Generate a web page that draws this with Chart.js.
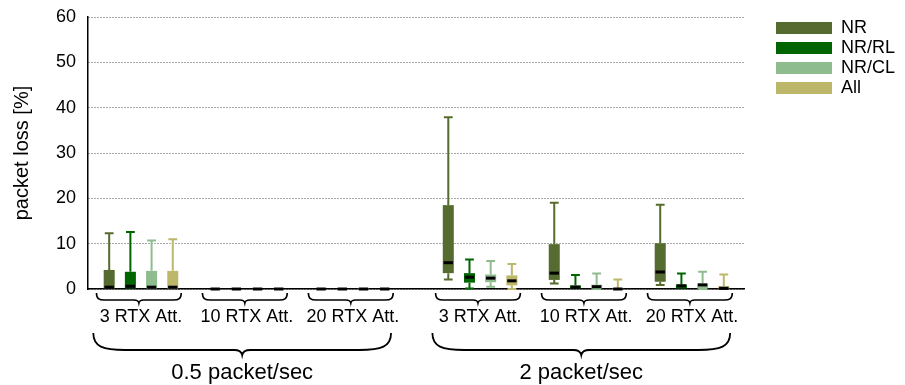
<!DOCTYPE html>
<html>
<head>
<meta charset="utf-8">
<script src="https://cdn.jsdelivr.net/npm/chart.js@4.4.1/dist/chart.umd.min.js"></script>
<style>
  html, body { margin: 0; padding: 0; background: #fff; }
  #wrap { width: 905px; height: 385px; position: relative; }
</style>
</head>
<body>
<div id="wrap"><canvas id="lossChart"></canvas></div>
<script>
// groups along the x axis and where they sit
const groupLabels = ['3 RTX Att.', '10 RTX Att.', '20 RTX Att.', '3 RTX Att.', '10 RTX Att.', '20 RTX Att.'];
const groupPos = [0.5, 1.5, 2.5, 3.7, 4.7, 5.7];
const rateLabels = ['0.5 packet/sec', '2 packet/sec'];
const rateGroups = [[0, 2], [3, 5]];

// per group: [low whisker, q1, median, q3, high whisker]
const nr = [
  [0, 0, 0.4, 4.2, 12.3],
  [0, 0, 0, 0, 0],
  [0, 0, 0, 0, 0],
  [2.1, 3.5, 5.8, 18.5, 37.9],
  [1.2, 2.0, 3.5, 9.9, 19.0],
  [0.9, 1.6, 3.75, 10.1, 18.6]
];
const nrRl = [
  [0, 0, 0.6, 3.8, 12.6],
  [0, 0, 0, 0, 0],
  [0, 0, 0, 0, 0],
  [0.1, 1.4, 2.6, 3.5, 6.5],
  [0, 0, 0.4, 0.8, 3.1],
  [0, 0, 0.7, 1.0, 3.4]
];
const nrCl = [
  [0, 0, 0.4, 4.0, 10.7],
  [0, 0, 0, 0, 0],
  [0, 0, 0, 0.2, 0.2],
  [0.5, 1.5, 2.4, 3.2, 6.2],
  [0, 0.1, 0.5, 0.95, 3.4],
  [0, 0.1, 0.9, 1.25, 3.8]
];
const all = [
  [0, 0, 0.4, 4.0, 11.0],
  [0, 0, 0, 0, 0],
  [0, 0, 0, 0, 0],
  [0, 0.8, 1.8, 3.0, 5.5],
  [0, 0, 0, 0.2, 2.1],
  [0, 0, 0.15, 0.65, 3.2]
];

const seriesNames = ['NR', 'NR/RL', 'NR/CL', 'All'];
const seriesStats = [nr, nrRl, nrCl, all];
const seriesColors = ['#556b2f', '#006400', '#8fbc8f', '#bdb76b'];

Chart.defaults.font.family = "'Liberation Sans', Arial, Helvetica, sans-serif";
Chart.defaults.color = '#000';

const datasets = seriesNames.map((name, s) => ({
  label: name,
  data: groupPos.map((x, g) => ({ x: x, y: [seriesStats[s][g][1], seriesStats[s][g][3]] })),
  stats: seriesStats[s],
  backgroundColor: seriesColors[s],
  borderWidth: 0,
  borderSkipped: false,
  barPercentage: 0.52,
  categoryPercentage: 0.8,
  xAxisID: 'x',
  yAxisID: 'y'
}));

// whiskers behind the boxes, medians on top
const boxPlot = {
  id: 'boxPlot',
  beforeDatasetsDraw(chart) {
    const ctx = chart.ctx;
    const y = chart.scales.y;
    chart.data.datasets.forEach((ds, d) => {
      chart.getDatasetMeta(d).data.forEach((bar, i) => {
        const st = ds.stats[i];
        const cap = bar.width * 0.8;
        ctx.save();
        ctx.strokeStyle = ds.backgroundColor;
        ctx.lineWidth = 2;
        [[st[3], st[4]], [st[1], st[0]]].forEach(([from, to]) => {
          if (from === to) return;
          const y0 = y.getPixelForValue(from);
          const y1 = y.getPixelForValue(to);
          ctx.beginPath();
          ctx.moveTo(bar.x, y0);
          ctx.lineTo(bar.x, y1);
          ctx.moveTo(bar.x - cap / 2, y1);
          ctx.lineTo(bar.x + cap / 2, y1);
          ctx.stroke();
        });
        ctx.restore();
      });
    });
  },
  afterDatasetsDraw(chart) {
    const ctx = chart.ctx;
    const y = chart.scales.y;
    chart.data.datasets.forEach((ds, d) => {
      chart.getDatasetMeta(d).data.forEach((bar, i) => {
        const ym = y.getPixelForValue(ds.stats[i][2]);
        const w = bar.width * 0.85;
        ctx.save();
        ctx.strokeStyle = '#000';
        ctx.lineWidth = 3;
        ctx.beginPath();
        ctx.moveTo(bar.x - w / 2, ym);
        ctx.lineTo(bar.x + w / 2, ym);
        ctx.stroke();
        ctx.restore();
      });
    });
  }
};

function drawBrace(ctx, x1, x2, top, depth, tip, curl) {
  const xm = (x1 + x2) / 2;
  const yl = top + depth;
  ctx.beginPath();
  ctx.moveTo(x1, top);
  ctx.bezierCurveTo(x1, yl - depth * 0.2, x1 + curl * 0.3, yl, x1 + curl, yl);
  ctx.lineTo(xm - tip * 1.6, yl);
  ctx.quadraticCurveTo(xm - tip * 0.2, yl, xm, yl + tip);
  ctx.quadraticCurveTo(xm + tip * 0.2, yl, xm + tip * 1.6, yl);
  ctx.lineTo(x2 - curl, yl);
  ctx.bezierCurveTo(x2 - curl * 0.3, yl, x2, yl - depth * 0.2, x2, top);
  ctx.stroke();
}

// braces under the groups and the rate captions
const groupBraces = {
  id: 'groupBraces',
  afterDraw(chart) {
    const ctx = chart.ctx;
    const xs = chart.scales.x;
    const bottom = chart.chartArea.bottom;
    ctx.save();
    ctx.strokeStyle = '#000';
    ctx.lineWidth = 1.6;
    groupPos.forEach(p => {
      drawBrace(ctx, xs.getPixelForValue(p - 0.42), xs.getPixelForValue(p + 0.38), bottom + 4, 7, 3, 8);
    });
    ctx.lineWidth = 1.8;
    ctx.font = "22px 'Liberation Sans', Arial, sans-serif";
    ctx.fillStyle = '#000';
    ctx.textAlign = 'center';
    ctx.textBaseline = 'middle';
    rateGroups.forEach(([a, b], r) => {
      const x1 = xs.getPixelForValue(groupPos[a] - 0.45);
      const x2 = xs.getPixelForValue(groupPos[b] + 0.36);
      drawBrace(ctx, x1, x2, bottom + 44, 17, 5, 32);
      ctx.fillText(rateLabels[r], (x1 + x2) / 2, bottom + 84);
    });
    ctx.restore();
  }
};

new Chart(document.getElementById('lossChart'), {
  type: 'bar',
  data: { datasets: datasets },
  options: {
    responsive: true,
    maintainAspectRatio: false,
    animation: false,
    layout: { padding: { top: 17, right: 0, bottom: 0, left: 0 } },
    plugins: {
      tooltip: { enabled: false },
      legend: {
        position: 'right',
        align: 'start',
        labels: {
          boxWidth: 56,
          boxHeight: 12,
          padding: 2,
          font: { size: 18 },
          color: '#000'
        }
      }
    },
    scales: {
      x: {
        type: 'linear',
        min: 0,
        max: 6.2,
        offset: false,
        grid: { display: false, drawTicks: false },
        border: { display: true, color: '#000', width: 1.5 },
        afterBuildTicks: axis => { axis.ticks = groupPos.map(v => ({ value: v })); },
        afterFit: axis => { axis.height = 96; },
        ticks: {
          autoSkip: false,
          maxRotation: 0,
          padding: 17,
          font: { size: 18 },
          callback: (value, index) => groupLabels[index]
        }
      },
      y: {
        min: 0,
        max: 60,
        // invisible tick marks keep the labels off the axis line
        grid: { color: '#555', lineWidth: 1, drawTicks: true, tickLength: 12, tickColor: 'rgba(0,0,0,0)' },
        border: { display: true, color: '#000', width: 1.5, dash: [1, 2] },
        afterFit: axis => { axis.width = 88; },
        ticks: { stepSize: 10, padding: 0, font: { size: 18 } },
        title: {
          display: true,
          text: 'packet loss [%]',
          font: { size: 20 },
          padding: { top: 10, bottom: 0 }
        }
      },
      // empty spacer between the plot and the legend
      gap: {
        position: 'right',
        display: true,
        grid: { display: false, drawTicks: false },
        border: { display: false },
        ticks: { display: false },
        afterFit: axis => { axis.width = 29; }
      }
    }
  },
  plugins: [boxPlot, groupBraces]
});
</script>
</body>
</html>
